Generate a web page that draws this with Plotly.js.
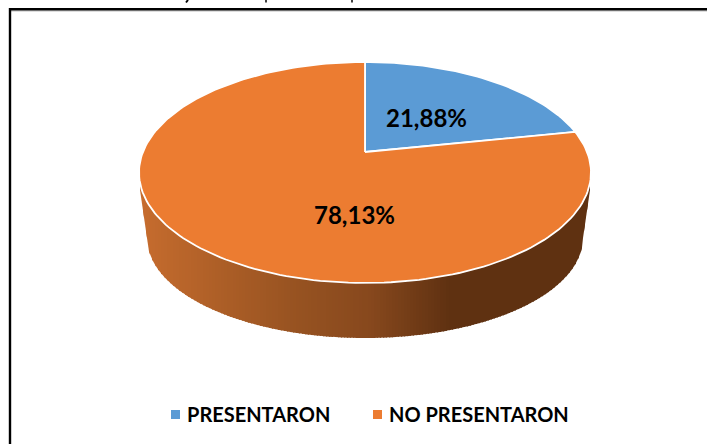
<!DOCTYPE html>
<html>
<head>
<meta charset="utf-8">
<script src="https://cdn.plot.ly/plotly-3.0.1.min.js"></script>
<style>html,body{margin:0;padding:0;background:#fff;overflow:hidden}</style>
</head>
<body>
<div id="chart" style="width:707px;height:444px"></div>
<script>
// --- data ---
const categories = ['PRESENTARON', 'NO PRESENTARON'];
const percentValues = [21.88, 78.13];
const percentLabels = ['21,88%', '78,13%'];

// --- styles ---
const sliceColors = ['#5B9BD5', '#EC7C31'];
const FONT = 'Lato, "Open Sans", sans-serif';

// --- 3-D projection of the pie disc (page pixels) ---
const cx = 365, cy = 172.5, a = 226, b = 110.5, apexOffset = 20.5;
const k = -apexOffset / b, A = a * Math.sqrt(1 - k * k);
function rim(t) {               // t = clockwise fraction of the circle from 12 o'clock
  const th = 2 * Math.PI * t, X = Math.sin(th), Y = Math.cos(th), w = 1 - k * Y;
  return [cx + A * X / w, cy - (b * Y + apexOffset) / w];
}
const apex = [cx, cy - apexOffset];

// lower edge of the side wall
const lowCy = 238, lowA = 218, lowB = 100, sideMax = 225, sideTop = 190;
function lowerEdge(x) {
  const d = Math.abs(x - cx);
  if (d <= lowA) return lowCy + lowB * Math.sqrt(1 - (d / lowA) * (d / lowA));
  return lowCy - (d - lowA) / (sideMax - lowA) * (lowCy - sideTop);
}
// side-wall shading stops
const shadeX = [140, 230, 300, 370, 450, 592];
const shadeR = [198, 170, 150, 135, 95, 95];
const shadeG = [108, 93, 82, 72, 49, 49];
const shadeB = [46, 38, 33, 29, 17, 17];
function interp(xs, ys, x) {
  for (let i = 1; i < xs.length; i++) if (x <= xs[i]) {
    return ys[i - 1] + (ys[i] - ys[i - 1]) * (x - xs[i - 1]) / (xs[i] - xs[i - 1]);
  }
  return ys[ys.length - 1];
}

const traces = [];
// side wall as thin shaded strips
const step = 3;
for (let x = cx - sideMax; x < cx + sideMax; x += step) {
  const x2 = Math.min(x + step + 1, cx + sideMax);
  const xs = [], ys = [];
  for (let q = 0; q <= 4; q++) { const px = x + (x2 - x) * q / 4; xs.push(px); ys.push(lowerEdge(px)); }
  xs.push(x2, x, x); ys.push(cy + 4, cy + 4, ys[0]);
  const m = x + step / 2;
  const col = 'rgb(' + [shadeR, shadeG, shadeB].map(c => Math.round(interp(shadeX, c, m))).join(',') + ')';
  traces.push({type: 'scatter', mode: 'lines', x: xs, y: ys, fill: 'toself', fillcolor: col,
    line: {width: 0, color: col}, hoverinfo: 'skip', showlegend: false});
}

// top face, drawn from the values
const total = percentValues.reduce((s, v) => s + v, 0);
let cum = 0;
percentValues.forEach((v, i) => {
  const t0 = cum / total, t1 = (cum + v) / total, n = Math.ceil((t1 - t0) * 240);
  cum += v;
  const xs = [apex[0]], ys = [apex[1]];
  for (let q = 0; q <= n; q++) { const p = rim(t0 + (t1 - t0) * q / n); xs.push(p[0]); ys.push(p[1]); }
  xs.push(apex[0]); ys.push(apex[1]);
  traces.push({type: 'scatter', mode: 'lines', x: xs, y: ys, fill: 'toself', fillcolor: sliceColors[i],
    line: {width: 1.8, color: '#FFFFFF'}, name: categories[i], showlegend: false,
    text: percentLabels[i], hoverinfo: 'name+text'});
});

// legend entries
categories.forEach((c, i) => traces.push({type: 'scatter', mode: 'markers', x: [null], y: [null],
  name: c, marker: {symbol: 'square', size: 9, color: sliceColors[i]}, showlegend: true, hoverinfo: 'skip'}));

const labelX = [426, 354], labelY = [117, 214];
const annotations = percentLabels.map((t, i) => ({x: labelX[i], y: labelY[i], xref: 'x', yref: 'y', text: t,
  showarrow: false, font: {family: FONT, size: 24, color: '#000', weight: 700}}));

const line = (x0, y0, x1, y1, color, width) => ({type: 'line', x0, y0, x1, y1, xref: 'x', yref: 'y', layer: 'below',
  line: {color, width}});
const shapes = [
  line(11, 11, 707, 11, '#BDBDBD', 1),
  line(9.5, 9.2, 707, 9.2, '#000', 2.4),
  line(10, 8, 10, 444, '#000', 2.4),
  line(188, 0, 186, 2.5, '#000', 2),
  line(266, 0, 266, 2.5, '#000', 1.5),
  line(352, 0, 352, 2.5, '#000', 1.5)
];

const layout = {
  width: 707, height: 444, margin: {l: 0, r: 0, t: 0, b: 0}, paper_bgcolor: '#fff', plot_bgcolor: '#fff',
  xaxis: {range: [0, 707], visible: false, fixedrange: true},
  yaxis: {range: [444, 0], visible: false, fixedrange: true},
  shapes, annotations,
  legend: {orientation: 'h', x: 155.5 / 707, xanchor: 'left', y: 1 - 395 / 444, yanchor: 'top',
    font: {family: FONT, size: 20, color: '#000', weight: 700}, bgcolor: 'rgba(0,0,0,0)',
    entrywidth: 157, entrywidthmode: 'pixels', itemclick: false, itemdoubleclick: false, traceorder: 'normal'},
  showlegend: true
};
Plotly.newPlot('chart', traces, layout, {displayModeBar: false, staticPlot: false}).then(gd => {
  gd.querySelectorAll('.legendtext').forEach(t => t.setAttribute('x', 31.5));
  gd.querySelectorAll('.legend, .legend .scrollbox').forEach(g => g.removeAttribute('clip-path'));
  gd.querySelectorAll('.legend .scrollbox').forEach(g => g.style.clipPath = 'none');
});
</script>
</body>
</html>
